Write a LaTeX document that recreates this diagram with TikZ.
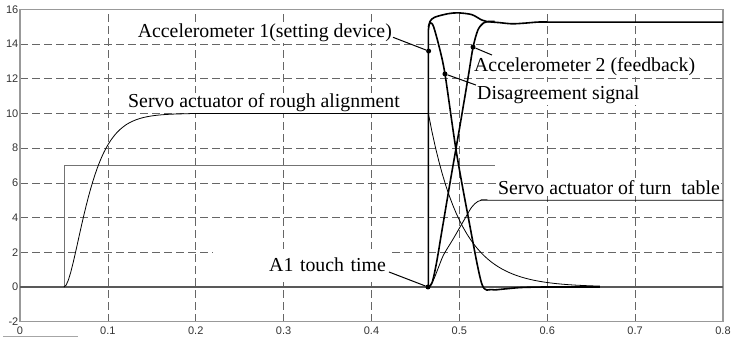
\documentclass[tikz,border=0pt]{standalone}
\usepackage{fontspec}
\setmainfont{Liberation Serif}
\setsansfont{Liberation Sans}
\usepackage{tikz}

\begin{document}
\begin{tikzpicture}[x=878.75pt,y=17.35pt,
 lbl/.style={fill=white,inner sep=1pt,font=\fontsize{19.8}{22}\selectfont},
 tick/.style={font=\sffamily\fontsize{11}{13}\selectfont,text=black!80,inner sep=0pt},
 grd/.style={black!60,line width=0.7pt,dash pattern=on 8pt off 4pt},
 thk/.style={line width=1.6pt,line join=round},
 thn/.style={line width=0.8pt},
 dot/.style={circle,fill=black,inner sep=0pt,minimum size=5pt},
 lead/.style={line width=1pt}]
\useasboundingbox (-0.02276,-2.9971) rectangle (0.81138,16.5418);
% grid and axes
\foreach \y in {2,4,...,14} \draw[grd] (0,\y) -- (0.8,\y);
\foreach \x in {0.1,0.2,0.3,0.4,0.5,0.6,0.7} \draw[grd] (\x,-2) -- (\x,16);
\draw[black!40,line width=1.2pt] (0,-2) rectangle (0.8,16);
\foreach \y in {-2,0,...,16} \node[tick,anchor=east,xshift=-1.5pt] at (0,\y) {\y};
\foreach \x in {0,0.1,0.2,0.3,0.4,0.5,0.6,0.7,0.8} \node[tick] at (\x,-2.536) {\x};
\draw[black!35,line width=0.6pt] (-0.0193,-2.824) -- (0.066,-2.824);
\draw[black!65,line width=2.2pt] (0,0) -- (0.8,0);
\draw[black!55,thn] (0.0504,0) |- (0.5405,7);
% labels
\node[lbl,anchor=base west] (rlbl) at (0.12176,10.317) {Servo actuator of rough alignment};
\node[lbl,anchor=base east] (a1lbl) at (0.4245,14.392) {Accelerometer 1(setting device)};
\node[lbl,anchor=base west] (a2lbl) at (0.5155,12.392) {Accelerometer 2 (feedback)};
\node[lbl,anchor=base west] (dlbl) at (0.51892,10.778) {Disagreement signal};
\node[lbl,anchor=base west] (tlbl) at (0.54282,5.303) {Servo actuator of turn\ \ table};
\node[lbl,anchor=base east,text width=170pt,align=right,inner xsep=3pt,minimum height=33pt] (ttlbl) at (0.41991,0.8646) {A1 touch time};
% curves
\draw[thn] plot[domain=0.05:0.2,samples=60] (\x,{10*(1-(1+(\x-0.05)/0.016)*exp(-(\x-0.05)/0.016))})
 -- (0.4647,10) -- plot[domain=0.4647:0.66,samples=50] (\x,{10*exp(-(\x-0.4647)/0.037)});
\draw[thn] plot[smooth] coordinates {(0.4647,0) (0.470,0.35) (0.476,1.1) (0.482,1.85) (0.4927,2.75) (0.5064,3.95) (0.514,4.6) (0.521,4.93) (0.53,5.03) (0.545,5.0) (0.8,5.0)};
\draw[thk] (0.4647,0) -- plot[smooth] coordinates {(0.4647,14.8) (0.4665,15.3) (0.472,15.55) (0.487,15.75) (0.4985,15.8) (0.514,15.7) (0.525,15.4) (0.531,15.3) (0.545,15.24) (0.56,15.17) (0.575,15.21) (0.59,15.27) (0.61,15.27) (0.8,15.27)};
\draw[thk] plot[smooth] coordinates {(0.4647,15.0) (0.4668,15.22) (0.4703,15.05) (0.4767,13.9) (0.4836,12.28) (0.4962,7.9) (0.510,4.05) (0.5254,0.2) (0.5368,-0.15) (0.55,-0.12) (0.57,-0.03) (0.60,0) (0.66,0)};
\draw[thk] plot[smooth] coordinates {(0.4647,0) (0.469,0.25) (0.474,1.4) (0.48,3.2) (0.49,6.2) (0.50,9.1) (0.51,12.1) (0.5155,13.8) (0.521,14.8) (0.527,15.2) (0.533,15.3) (0.54,15.3)};
% marks
\node[dot] (d1) at (0.4650,13.60) {};
\node[dot] (d2) at (0.5155,13.83) {};
\node[dot] (d3) at (0.4836,12.28) {};
\node[dot] (d4) at (0.4643,0) {};
\coordinate (e2) at (0.5371,13.37);
\draw[lead] (a1lbl.base east) -- (d1);
\draw[lead] (d2) -- (e2);
\draw[lead] (d3) -- (dlbl.north west);
\draw[lead] (ttlbl.base east) -- (d4);
\end{tikzpicture}
\end{document}
